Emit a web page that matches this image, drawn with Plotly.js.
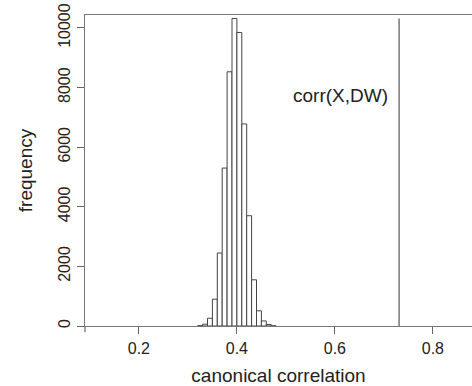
<!DOCTYPE html>
<html>
<head>
<meta charset="utf-8">
<script src="https://cdn.plot.ly/plotly-3.0.1.min.js"></script>
<style>html,body{margin:0;padding:0;background:#fff;}#chart{width:472px;height:386px;}</style>
</head>
<body>
<div id="chart"></div>
<script>
// Histogram bins (left edges) and counts
const binStarts = [0.32, 0.33, 0.34, 0.35, 0.36, 0.37, 0.38, 0.39, 0.40, 0.41, 0.42, 0.43, 0.44, 0.45, 0.46, 0.47];
const counts    = [10, 60, 260, 900, 2450, 5300, 8530, 10320, 9850, 6780, 3700, 1550, 510, 170, 50, 5];
const binWidth = 0.01;
// Observed canonical correlation
const corrValue = 0.731;
const corrLabel = "corr(X,DW)";
const xTicks = [0.2, 0.4, 0.6, 0.8];
const yTicks = [0, 2000, 4000, 6000, 8000, 10000];

const centers = binStarts.map(b => b + binWidth / 2);
const font = "Liberation Sans, Arial, Helvetica, sans-serif";

const trace = {
  type: "bar",
  x: centers,
  y: counts,
  width: binWidth,
  marker: {color: "#ffffff", line: {color: "#444", width: 1}},
  hoverinfo: "x+y"
};

const layout = {
  width: 472, height: 386,
  margin: {l: 85, r: 0, t: 15, b: 60, pad: 0},
  paper_bgcolor: "#fff", plot_bgcolor: "#fff",
  showlegend: false,
  bargap: 0,
  font: {family: font, color: "#222", size: 16},
  xaxis: {
    range: [0.09, 0.8798],
    tickvals: xTicks,
    ticktext: xTicks.map(v => v.toFixed(1)),
    ticks: "outside", ticklen: 7, tickcolor: "#666", tickwidth: 1,
    showline: true, mirror: true, linecolor: "#777", linewidth: 1.3,
    showgrid: false, zeroline: false,
    tickfont: {size: 16},
    title: {text: "canonical correlation", font: {size: 19}, standoff: 14},
    automargin: false
  },
  yaxis: {
    range: [0, 10436],
    tickvals: yTicks,
    ticktext: yTicks.map(String),
    tickangle: -90,
    ticks: "outside", ticklen: 7, tickcolor: "#666", tickwidth: 1,
    showline: true, mirror: false, linecolor: "#777", linewidth: 1.3,
    showgrid: false, zeroline: false,
    tickfont: {size: 16},
    title: {text: "frequency", font: {size: 19}, standoff: 18},
    automargin: false
  },
  shapes: [{
    type: "line", xref: "x", yref: "y",
    x0: corrValue, x1: corrValue, y0: 0, y1: Math.max(...counts),
    line: {color: "#777", width: 1.5}
  }, {
    type: "line", xref: "paper", yref: "paper",
    x0: 0, x1: 0, y0: -0.02, y1: 0,
    line: {color: "#777", width: 1.3}
  }],
  annotations: [{
    xref: "x", yref: "y", x: 0.612, y: 7750,
    text: corrLabel, showarrow: false,
    font: {size: 19, color: "#222", family: font},
    xanchor: "center", yanchor: "middle"
  }]
};

Plotly.newPlot("chart", [trace], layout, {displayModeBar: false, staticPlot: true});
</script>
</body>
</html>
